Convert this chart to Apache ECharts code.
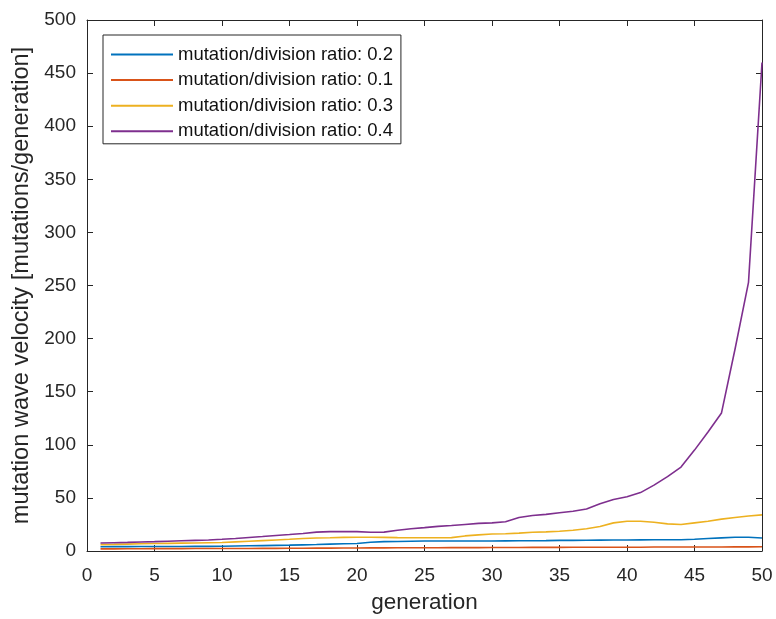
<!DOCTYPE html>
<html>
<head>
<meta charset="utf-8">
<script src="https://cdn.jsdelivr.net/npm/echarts@6/dist/echarts.min.js"></script>
<style>
  html, body { margin: 0; padding: 0; background: #fff; }
  #main { width: 776px; height: 619px; }
</style>
</head>
<body>
<div id="main"></div>
<script>
// generations 1..50
const generations = [1, 2, 3, 4, 5, 6, 7, 8, 9, 10, 11, 12, 13, 14, 15, 16, 17, 18, 19, 20,
  21, 22, 23, 24, 25, 26, 27, 28, 29, 30, 31, 32, 33, 34, 35, 36, 37, 38, 39, 40,
  41, 42, 43, 44, 45, 46, 47, 48, 49, 50]

const ratio02 = [4.0, 4.1, 4.1, 4.2, 4.2, 4.3, 4.3, 4.4, 4.4, 4.5, 4.7, 4.9, 5.1, 5.3, 5.5, 5.8, 6.1, 6.5, 6.8, 7.0,
  8.3, 8.8, 9.0, 9.2, 9.4, 9.4, 9.4, 9.4, 9.4, 9.4, 9.5, 9.6, 9.7, 9.8, 10.0, 10.0, 10.1, 10.2, 10.3, 10.4,
  10.5, 10.6, 10.6, 10.6, 11.0, 11.8, 12.4, 13.0, 13.0, 12.2]

const ratio01 = [2.0, 2.0, 2.1, 2.1, 2.2, 2.2, 2.2, 2.3, 2.3, 2.3, 2.4, 2.4, 2.5, 2.5, 2.6, 2.6, 2.7, 2.7, 2.8, 2.8,
  2.9, 2.9, 3.0, 3.0, 3.1, 3.1, 3.2, 3.2, 3.2, 3.3, 3.3, 3.3, 3.4, 3.4, 3.4, 3.5, 3.5, 3.5, 3.6, 3.6,
  3.6, 3.7, 3.7, 3.7, 3.8, 3.8, 3.8, 3.9, 3.9, 4.0]

const ratio03 = [6.0, 6.2, 6.5, 6.8, 7.0, 7.2, 7.4, 7.6, 7.8, 8.0, 8.6, 9.2, 9.8, 10.4, 11.0, 11.8, 12.3, 12.5, 12.8, 13.0,
  13.0, 12.8, 12.6, 12.5, 12.5, 12.5, 12.6, 14.2, 15.2, 16.0, 16.3, 16.8, 17.6, 18.0, 18.6, 19.5, 21.0, 23.0, 26.5, 28.0,
  28.0, 27.0, 25.5, 25.0, 26.5, 28.0, 30.0, 31.5, 33.0, 34.0]

const ratio04 = [7.5, 7.8, 8.1, 8.5, 8.8, 9.2, 9.6, 10.0, 10.4, 11.0, 11.8, 12.7, 13.6, 14.6, 15.5, 16.5, 17.8, 18.2, 18.3, 18.2,
  17.6, 17.8, 19.5, 21.0, 22.0, 23.2, 24.0, 25.0, 26.0, 26.5, 27.5, 31.5, 33.5, 34.5, 36.0, 37.5, 39.5, 44.5, 48.5, 51.0,
  55.0, 62.0, 70.0, 79.0, 95.0, 112.0, 130.0, 190.0, 253.0, 460.0]

const seriesNames = ['mutation/division ratio: 0.2', 'mutation/division ratio: 0.1',
  'mutation/division ratio: 0.3', 'mutation/division ratio: 0.4']
const seriesColors = ['#0072BD', '#D95319', '#EDB120', '#7E2F8E']
const seriesValues = [ratio02, ratio01, ratio03, ratio04]

const FONT = 'Liberation Sans, Arial, sans-serif'
const AXIS_COLOR = '#262626'

function pairs (values) {
  return generations.map((g, i) => [g, values[i]])
}

// matlab style box: lines on all four sides, ticks pointing in
const boxAxis = {
  axisLine: { show: true, onZero: false, lineStyle: { color: AXIS_COLOR, width: 1 } },
  axisTick: { show: true, inside: true, length: 6, lineStyle: { color: AXIS_COLOR } },
  splitLine: { show: false }
}

const option = {
  backgroundColor: '#fff',
  animation: false,
  grid: { left: 87, right: 14, top: 20, bottom: 65.5 },
  legend: {
    orient: 'vertical',
    left: 103,
    top: 35,
    data: seriesNames,
    itemWidth: 62,
    itemHeight: 16,
    itemGap: 6.6,
    itemTextGap: 5,
    padding: [10, 8, 3, 7],
    borderColor: AXIS_COLOR,
    borderWidth: 1,
    backgroundColor: '#fff',
    itemStyle: { opacity: 0 },
    textStyle: { fontFamily: FONT, fontSize: 18.5, color: '#111' }
  },
  xAxis: [
    Object.assign({
      type: 'value',
      min: 0,
      max: 50,
      interval: 5,
      name: 'generation',
      nameLocation: 'middle',
      nameGap: 40,
      nameTextStyle: { fontFamily: FONT, fontSize: 22.5, color: AXIS_COLOR },
      axisLabel: { fontFamily: FONT, fontSize: 19, color: AXIS_COLOR, margin: 15 }
    }, boxAxis),
    Object.assign({
      type: 'value',
      position: 'top',
      min: 0,
      max: 50,
      interval: 5,
      axisLabel: { show: false }
    }, boxAxis)
  ],
  yAxis: [
    Object.assign({
      type: 'value',
      min: 0,
      max: 500,
      interval: 50,
      name: 'mutation wave velocity [mutations/generation]',
      nameLocation: 'middle',
      nameGap: 52,
      nameTextStyle: { fontFamily: FONT, fontSize: 23.6, color: AXIS_COLOR },
      axisLabel: { fontFamily: FONT, fontSize: 19, color: AXIS_COLOR, margin: 11 }
    }, boxAxis),
    Object.assign({
      type: 'value',
      position: 'right',
      min: 0,
      max: 500,
      interval: 50,
      axisLabel: { show: false }
    }, boxAxis)
  ],
  series: seriesNames.map((name, i) => ({
    name,
    type: 'line',
    data: pairs(seriesValues[i]),
    symbol: 'none',
    smooth: false,
    lineStyle: { color: seriesColors[i], width: 1.6 },
    itemStyle: { color: seriesColors[i] }
  }))
}

const myChart = echarts.init(document.getElementById('main'))
myChart.setOption(option)
</script>
</body>
</html>
